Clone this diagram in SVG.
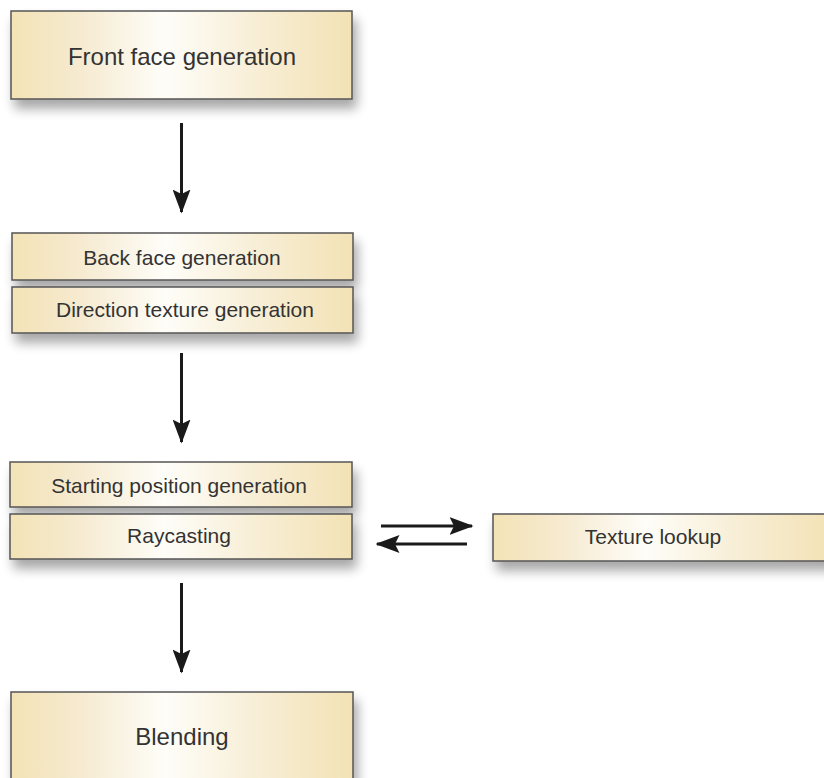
<svg xmlns="http://www.w3.org/2000/svg" width="824" height="778" viewBox="0 0 824 778">
<defs>
<linearGradient id="cream" x1="0" y1="0" x2="1" y2="0">
<stop offset="0" stop-color="#f3e3b6"/>
<stop offset="0.2" stop-color="#f6ead0"/>
<stop offset="0.45" stop-color="#fefdf8"/>
<stop offset="0.7" stop-color="#f8efd8"/>
<stop offset="1" stop-color="#f3e2b5"/>
</linearGradient>
<filter id="shadow" x="-10%" y="-20%" width="120%" height="180%">
<feGaussianBlur in="SourceAlpha" stdDeviation="6"/>
<feOffset dx="4" dy="9" result="b"/>
<feComponentTransfer><feFuncA type="linear" slope="0.35"/></feComponentTransfer>
<feMerge><feMergeNode/><feMergeNode in="SourceGraphic"/></feMerge>
</filter>
<marker id="ah" markerWidth="8" markerHeight="6" refX="7.5" refY="3" orient="auto" markerUnits="strokeWidth">
<path d="M0,0 L8,3 L0,6 L1.5,3 Z" fill="#1a1a1a"/>
</marker>
</defs>
<style>
.box{fill:url(#cream);stroke:#555;stroke-width:1.5;filter:url(#shadow)}
.t{font-family:"Liberation Sans",Arial,sans-serif;fill:#333;text-anchor:middle}
.big{font-size:24px}
.sm{font-size:21px}
.c{stroke:#1a1a1a;stroke-width:3;fill:none;marker-end:url(#ah)}
</style>
<rect width="824" height="778" fill="#fff"/>
<g id="front">
<rect class="box" x="11" y="11" width="341" height="88"/>
<text class="t big" x="182" y="65">Front face generation</text>
</g>
<g id="back">
<rect class="box" x="12" y="233" width="341" height="47"/>
<text class="t sm" x="182" y="265">Back face generation</text>
</g>
<g id="direction">
<rect class="box" x="12" y="287" width="341" height="46"/>
<text class="t sm" x="185" y="317">Direction texture generation</text>
</g>
<g id="starting">
<rect class="box" x="10" y="462" width="342" height="45"/>
<text class="t sm" x="179" y="493">Starting position generation</text>
</g>
<g id="raycasting">
<rect class="box" x="10" y="514" width="342" height="45"/>
<text class="t sm" x="179" y="543">Raycasting</text>
</g>
<g id="texture">
<rect class="box" x="493" y="514" width="340" height="47"/>
<text class="t sm" x="653" y="544">Texture lookup</text>
</g>
<g id="blending">
<rect class="box" x="11" y="692" width="342" height="100"/>
<text class="t big" x="182" y="745">Blending</text>
</g>
<g id="connectors">
<line class="c" x1="181.5" y1="123" x2="181.5" y2="212"/>
<line class="c" x1="181.5" y1="353" x2="181.5" y2="442"/>
<line class="c" x1="181.5" y1="583" x2="181.5" y2="672"/>
<line class="c" x1="381" y1="526" x2="472" y2="526"/>
<line class="c" x1="467" y1="544" x2="377" y2="544"/>
</g>
</svg>
